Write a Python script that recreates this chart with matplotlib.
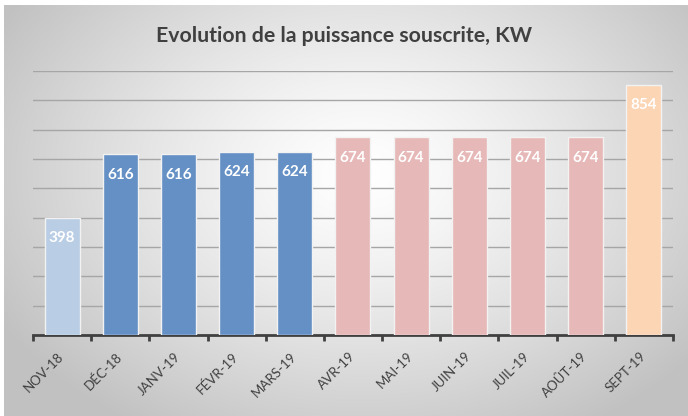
import matplotlib.pyplot as plt
import matplotlib.transforms as mtransforms
import numpy as np

months = ["NOV-18", "DÉC-18", "JANV-19", "FÉVR-19", "MARS-19", "AVR-19",
          "MAI-19", "JUIN-19", "JUIL-19", "AOÛT-19", "SEPT-19"]
power_kw = [398, 616, 616, 624, 624, 674, 674, 674, 674, 674, 854]
bar_colors = ["#b9cde5", "#6590c5", "#6590c5", "#6590c5", "#6590c5",
              "#e6b8b7", "#e6b8b7", "#e6b8b7", "#e6b8b7", "#e6b8b7", "#fcd5b4"]

fig = plt.figure(figsize=(6.88, 4.16), dpi=100)
fig.patch.set_facecolor("white")

# radial gradient background
bg = fig.add_axes([0.006, 0.0, 0.994, 0.988])
bg.set_axis_off()
yy, xx = np.mgrid[0:416, 0:688]
d = np.sqrt(((xx - 360) / 420.0) ** 2 + ((yy - 170) / 300.0) ** 2)
shade = np.clip(1.0 - 0.24 * d ** 1.3, 0.76, 1.0)
bg.imshow(np.dstack([shade, shade, shade]), aspect="auto", extent=[0, 1, 0, 1])
bg.set_xlim(0, 1)
bg.set_ylim(0, 1)

ax = fig.add_axes([0.048, 0.195, 0.930, 0.634])
ax.patch.set_alpha(0)
x = np.arange(len(months))
bars = ax.bar(x, power_kw, width=0.6, color=bar_colors, edgecolor="#f2f2f2",
              linewidth=1, zorder=3)

for rect, val in zip(bars, power_kw):
    ax.annotate(str(val), (rect.get_x() + rect.get_width() / 2, val),
                xytext=(0, -14.5), textcoords="offset points",
                ha="center", va="center", color="white",
                fontsize=11, fontweight="bold", family="Lato", zorder=4)

ax.set_xlim(-0.5, len(months) - 0.5)
ax.set_ylim(0, 900)
ax.set_yticks(np.arange(100, 1000, 100))
ax.yaxis.grid(True, color="#a6a6a6", linewidth=1, zorder=0)
ax.tick_params(axis="y", left=False, labelleft=False)
for side in ["top", "right", "left"]:
    ax.spines[side].set_visible(False)
ax.spines["bottom"].set_color("#404040")
ax.spines["bottom"].set_linewidth(2)

ax.set_xticks(np.arange(-0.5, len(months), 1.0))
ax.set_xticklabels([])
ax.set_xticks(x, minor=True)
ax.set_xticklabels(months, minor=True, rotation=45, ha="right", va="top",
                   rotation_mode="anchor", fontsize=9.5, color="#404040",
                   family="Lato")
ax.tick_params(axis="x", which="major", length=4, width=2, color="#404040",
               direction="out")
ax.tick_params(axis="x", which="minor", length=0, pad=4)

fig.text(0.5, 0.913, "Evolution de la puissance souscrite, KW", ha="center",
         va="center", fontsize=15.3, fontweight="bold", color="#404040",
         family="Lato")

# place each rotated label so its upper-right end sits just below its bar
fig.canvas.draw()
renderer = fig.canvas.get_renderer()
fig_h = fig.bbox.height
for i, lbl in enumerate(ax.get_xticklabels(minor=True)):
    bb = lbl.get_window_extent(renderer)
    cx = ax.transData.transform((i, 0))[0]
    dx = (cx + 4) - bb.x1
    dy = (fig_h - 350) - bb.y1
    lbl.set_transform(lbl.get_transform() + mtransforms.Affine2D().translate(dx, dy))

fig.savefig("out.png", dpi=100)
